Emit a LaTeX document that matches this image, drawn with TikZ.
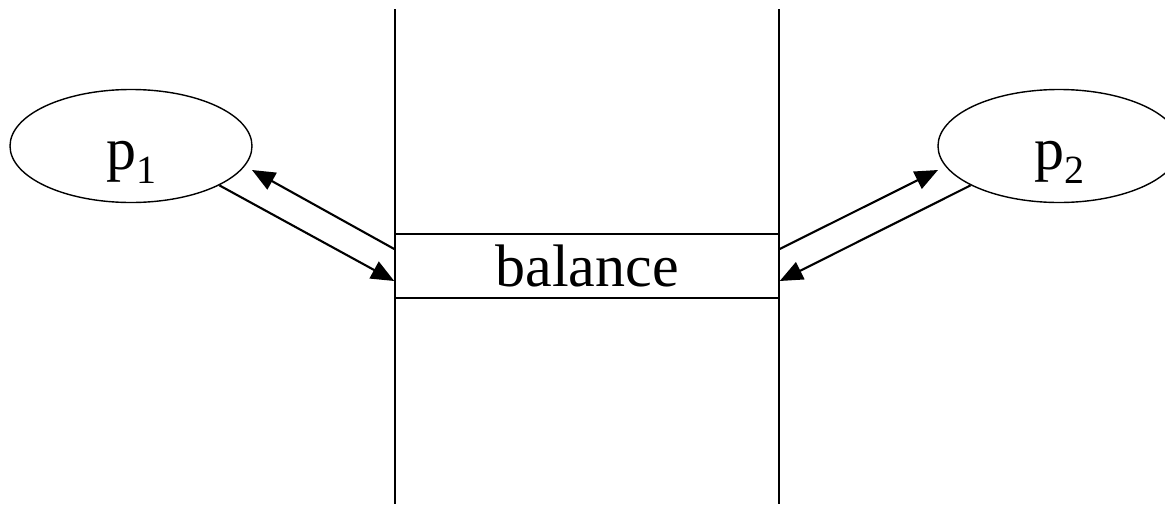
\documentclass[tikz,border=0pt]{standalone}
\usepackage{fontspec}
\setmainfont{Liberation Serif}
\usetikzlibrary{shapes.geometric,arrows.meta}
\newcommand{\mysub}[1]{\raisebox{-14pt}{\fontsize{40}{48}\selectfont #1}}
\tikzset{
  proc/.style={draw, ellipse, line width=1.4pt, minimum width=242pt, minimum height=113pt, inner sep=0pt},
  lbl/.style={anchor=base, inner sep=0pt, font=\fontsize{60}{72}\selectfont},
  bigbox/.style={draw, rectangle, line width=1.5pt, minimum width=384pt, minimum height=64pt, inner sep=0pt, font=\fontsize{60}{72}\selectfont},
  wall/.style={line width=1.6pt},
  conn/.style={line width=2.1pt, -{Triangle[length=23pt,width=19pt]}}
}
\begin{document}
\begin{tikzpicture}[x=1pt,y=-1pt]
\useasboundingbox (0,0) rectangle (1165,504);
\clip (0,0) rectangle (1165,504);
% walls
\coordinate (lt) at (395,9);
\coordinate (lb) at (395,504);
\coordinate (rt) at (779,9);
\coordinate (rb) at (779,504);
\draw[wall] (lt) -- (lb);
\draw[wall] (rt) -- (rb);
% balance box
\node[bigbox] (bal) at (587,266) {balance};
% processes
\node[proc] (p1) at (131,146) {};
\node[lbl] (p1t) at (131,169) {p\mysub{1}};
\node[proc] (p2) at (1059,146) {};
\node[lbl] (p2t) at (1059,169) {p\mysub{2}};
% arrow end points near the ellipses
\coordinate (a1) at (252,170);
\coordinate (a2) at (938,170);
% connectors
\draw[conn] (p1.-24) -- ([yshift=-15pt]bal.west);
\draw[conn] ([yshift=17pt]bal.west) -- (a1);
\draw[conn] ([yshift=17pt]bal.east) -- (a2);
\draw[conn] (p2.204) -- ([yshift=-15pt]bal.east);
\end{tikzpicture}
\end{document}
